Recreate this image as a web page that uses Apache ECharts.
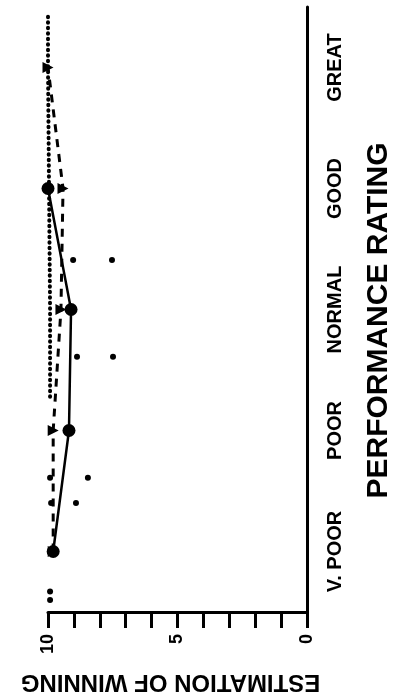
<!DOCTYPE html>
<html>
<head>
<meta charset="utf-8">
<script src="https://cdn.jsdelivr.net/npm/echarts@6/dist/echarts.min.js"></script>
<style>
  html, body { margin: 0; padding: 0; background: #fff; }
  #chart { width: 399px; height: 698px; }
</style>
</head>
<body>
<div id="chart"></div>
<script>
// performance categories, bottom to top
const ratings = ["V. POOR", "POOR", "NORMAL", "GOOD", "GREAT"];
const valueTicks = [0, 5, 10];

// solid line with filled circles (no GREAT value)
const solidValues = [9.8, 9.19, 9.11, 10.0, null];
// dashed line with triangles
const dashedValues = [9.8, 9.8, 9.5, 9.42, 10.0];
// dotted trace, positions on the rating scale (0 = V. POOR ... 4 = GREAT)
const dottedPos = [4.42, 4, 3, 2, 1.25];
const dottedValues = [10.0, 10.0, 9.96, 9.92, 9.92];
// loose single points
const loosePos = [2.41, 2.41, 1.61, 1.61, 0.61, 0.61, 0.4, 0.4, -0.33, -0.4];
const looseValues = [9.03, 7.53, 8.88, 7.49, 9.92, 8.46, 9.88, 8.92, 9.92, 9.92];

const chart = echarts.init(document.getElementById("chart"));

const option = {
  backgroundColor: "#fff",
  animation: false,
  grid: { left: 48, right: 92, top: 7, bottom: 86, outerBoundsMode: "none" },
  xAxis: {
    type: "value",
    min: 0,
    max: 10,
    interval: 1,
    inverse: true,
    position: "bottom",
    name: "ESTIMATION OF WINNING",
    nameLocation: "middle",
    nameRotate: 180,
    nameGap: 58,
    nameTextStyle: { color: "#000", fontSize: 24, fontWeight: "bold", fontFamily: "Liberation Sans", padding: [0, 0, 0, 14] },
    axisLine: { onZero: false, lineStyle: { color: "#000", width: 3 } },
    axisTick: { length: 16, lineStyle: { color: "#000", width: 3 } },
    splitLine: { show: false },
    axisLabel: {
      rotate: 90,
      margin: 22,
      color: "#000",
      fontSize: 18,
      fontWeight: "bold",
      fontFamily: "Liberation Sans",
      formatter: v => (valueTicks.includes(v) ? String(v) : "")
    }
  },
  yAxis: [
    {
      type: "category",
      data: ratings,
      position: "right",
      boundaryGap: true,
      name: "PERFORMANCE RATING",
      nameLocation: "middle",
      nameRotate: 90,
      nameGap: 57,
      nameTextStyle: { color: "#000", fontSize: 30, fontWeight: "bold", fontFamily: "Liberation Sans", padding: [0, 22, 0, 0] },
      axisLine: { onZero: false, lineStyle: { color: "#000", width: 3 } },
      axisTick: { length: 23, lineStyle: { color: "#000", width: 2.5 } },
      axisLabel: {
        rotate: 90,
        margin: 18,
        color: "#000",
        fontSize: 20,
        fontWeight: "bold",
        fontFamily: "Liberation Sans"
      }
    },
    {
      type: "value",
      min: -0.5,
      max: 4.5,
      show: false
    }
  ],
  series: [
    {
      type: "line",
      data: dottedPos.map((p, i) => [dottedValues[i], p]),
      yAxisIndex: 1,
      showSymbol: false,
      lineStyle: { color: "#000", width: 4, type: [0.5, 5], cap: "round" },
      z: 1
    },
    {
      type: "line",
      data: dashedValues,
      symbol: "triangle",
      symbolRotate: -90,
      symbolSize: 11,
      itemStyle: { color: "#000" },
      lineStyle: { color: "#000", width: 3, type: [8, 7] },
      z: 2
    },
    {
      type: "line",
      data: solidValues,
      symbol: "circle",
      symbolSize: 13,
      itemStyle: { color: "#000" },
      lineStyle: { color: "#000", width: 2.5 },
      z: 3
    },
    {
      type: "scatter",
      data: loosePos.map((p, i) => [looseValues[i], p]),
      yAxisIndex: 1,
      symbolSize: 6,
      itemStyle: { color: "#000", opacity: 1 }
    }
  ]
};

chart.setOption(option);
</script>
</body>
</html>
